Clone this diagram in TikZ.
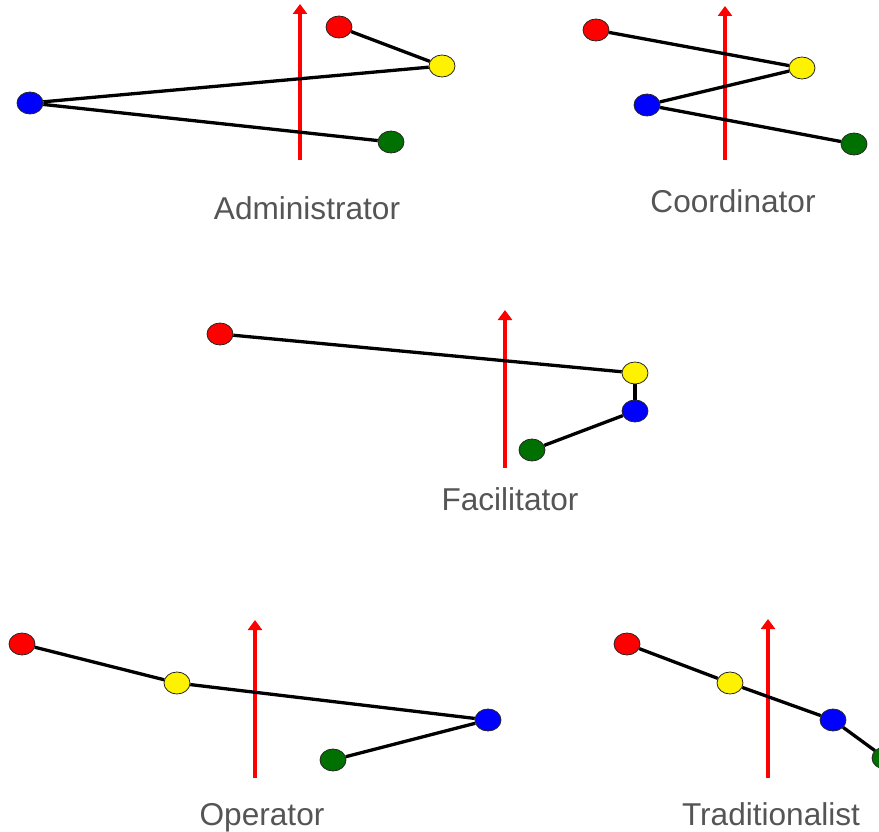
\documentclass[tikz,border=0pt]{standalone}
\usepackage{fontspec}
\setmainfont{Liberation Sans}
\usetikzlibrary{arrows.meta,shapes.geometric}
\definecolor{labelgray}{HTML}{555555}
\definecolor{dgreen}{HTML}{007000}
\tikzset{
  dot/.style={ellipse, draw=black!85, line width=0.8pt, minimum width=26pt, minimum height=22pt, inner sep=0pt},
  link/.style={black, line width=3.3pt},
  axis/.style={red, line width=3.3pt, -{Triangle[width=14pt,length=10pt]}},
  lbl/.style={text=labelgray, font=\fontsize{31.6}{36}\selectfont, anchor=base},
}
\begin{document}
\begin{tikzpicture}[x=1pt,y=-1pt]
\useasboundingbox (0,0) rectangle (879,832);
% Administrator
\coordinate (a0) at (300,160); \coordinate (a1) at (300,4);
\draw[axis] (a0) -- (a1);
\node[dot, fill=red] (ar) at (339,27) {};
\node[dot, fill=yellow] (ay) at (442,66) {};
\node[dot, fill=blue] (ab) at (30,103) {};
\node[dot, fill=dgreen] (ag) at (391,142) {};
\draw[link] (ar) -- (ay); \draw[link] (ay) -- (ab); \draw[link] (ab) -- (ag);
\node[lbl] (al) at (307,220) {Administrator};
% Coordinator
\coordinate (c0) at (725,160); \coordinate (c1) at (725,6);
\draw[axis] (c0) -- (c1);
\node[dot, fill=red] (cr) at (596,30) {};
\node[dot, fill=yellow] (cy) at (802,68) {};
\node[dot, fill=blue] (cb) at (647,105) {};
\node[dot, fill=dgreen] (cg) at (854,144) {};
\draw[link] (cr) -- (cy); \draw[link] (cy) -- (cb); \draw[link] (cb) -- (cg);
\node[lbl] (cl) at (733,213) {Coordinator};
% Facilitator
\coordinate (f0) at (505,468); \coordinate (f1) at (505,310);
\draw[axis] (f0) -- (f1);
\node[dot, fill=red] (fr) at (220,334) {};
\node[dot, fill=yellow] (fy) at (635,373) {};
\node[dot, fill=blue] (fb) at (635,411) {};
\node[dot, fill=dgreen] (fg) at (532,450) {};
\draw[link] (fr) -- (fy); \draw[link] (fy) -- (fb); \draw[link] (fb) -- (fg);
\node[lbl] (fl) at (510,510) {Facilitator};
% Operator
\coordinate (o0) at (255,778); \coordinate (o1) at (255,620);
\draw[axis] (o0) -- (o1);
\node[dot, fill=red] (or) at (22,644) {};
\node[dot, fill=yellow] (oy) at (177,683) {};
\node[dot, fill=blue] (ob) at (488,720) {};
\node[dot, fill=dgreen] (og) at (333,760) {};
\draw[link] (or) -- (oy); \draw[link] (oy) -- (ob); \draw[link] (ob) -- (og);
\node[lbl] (ol) at (262,825) {Operator};
% Traditionalist
\coordinate (t0) at (768,778); \coordinate (t1) at (768,619);
\draw[axis] (t0) -- (t1);
\node[dot, fill=red] (tr) at (627,644) {};
\node[dot, fill=yellow] (ty) at (730,683) {};
\node[dot, fill=blue] (tb) at (833,720) {};
\node[dot, fill=dgreen] (tg) at (885,758) {};
\draw[link] (tr) -- (ty); \draw[link] (ty) -- (tb); \draw[link] (tb) -- (tg);
\node[lbl] (tl) at (771,825) {Traditionalist};
\end{tikzpicture}
\end{document}
